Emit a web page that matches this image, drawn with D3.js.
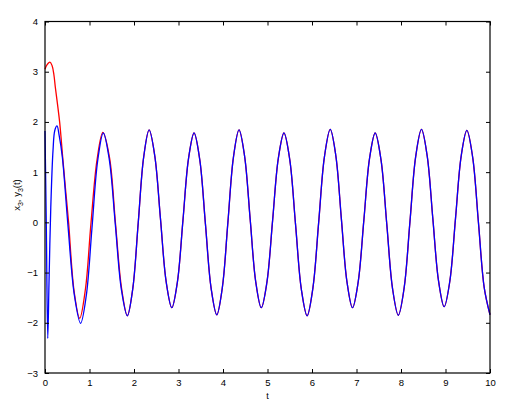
<!DOCTYPE html>
<html>
<head>
<meta charset="utf-8">
<script src="https://cdn.jsdelivr.net/npm/d3@7"></script>
<style>
  body { margin: 0; background: #fff; }
  svg { display: block; font-family: "Liberation Sans", Arial, sans-serif; }
</style>
</head>
<body>
<div id="chart"></div>
<script>
// Chart size and margins (plot box).
const width = 528;
const height = 401;
const marginTop = 21.5;
const marginRight = 38;
const marginBottom = 28;
const marginLeft = 45;

// Tick values.
const xTicks = [0, 1, 2, 3, 4, 5, 6, 7, 8, 9, 10];
const yTicks = [-3, -2, -1, 0, 1, 2, 3, 4];

// Start of the red curve (y3).
const redStartT = [0, 0.04, 0.11, 0.16, 0.20, 0.232, 0.28, 0.33, 0.404, 0.47, 0.53, 0.655, 0.78, 0.91, 1.03, 1.17, 1.30, 1.45, 1.585, 1.72];
const redStartY = [3.05, 3.13, 3.19, 3.12, 2.94, 2.69, 2.36, 1.99, 1.23, 0.58, 0.0, -1.38, -1.91, -1.32, -0.05, 1.25, 1.79, 1.29, -0.03, -1.31];

// Start of the blue curve (x3).
const blueStartT = [0, 0.03, 0.062, 0.09, 0.13, 0.18, 0.22, 0.27, 0.32, 0.39, 0.515, 0.66, 0.80, 0.9275, 1.055, 1.1825, 1.31, 1.445, 1.58, 1.715];
const blueStartY = [1.82, -0.1, -2.31, -1.2, 0.3, 1.43, 1.83, 1.92, 1.72, 1.30, -0.05, -1.45, -2.01, -1.46, -0.12, 1.22, 1.78, 1.25, -0.04, -1.33];

// After t ~ 1.85 the two curves lie on top of each other.
const tailT = [
  1.85, 1.9725, 2.095, 2.2175,
  2.34, 2.4675, 2.595, 2.7225,
  2.85, 2.975, 3.10, 3.225,
  3.35, 3.4775, 3.605, 3.7325,
  3.86, 3.985, 4.11, 4.235,
  4.36, 4.485, 4.61, 4.735,
  4.86, 4.9875, 5.115, 5.2425,
  5.37, 5.50, 5.63, 5.76,
  5.89, 6.02, 6.15, 6.28,
  6.41, 6.535, 6.66, 6.785,
  6.91, 7.0375, 7.165, 7.2925,
  7.42, 7.55, 7.68, 7.81,
  7.94, 8.07, 8.20, 8.33,
  8.46, 8.5875, 8.715, 8.8425,
  8.97, 9.0975, 9.225, 9.3525,
  9.48, 9.61, 9.74, 9.87,
  10.0
];
const tailY = [
  -1.86, -1.32, -0.01, 1.30,
  1.84, 1.32, 0.07, -1.18,
  -1.70, -1.19, 0.04, 1.27,
  1.78, 1.25, -0.03, -1.31,
  -1.84, -1.30, 0.0, 1.30,
  1.84, 1.32, 0.07, -1.18,
  -1.70, -1.19, 0.04, 1.27,
  1.78, 1.25, -0.04, -1.33,
  -1.86, -1.31, 0.0, 1.31,
  1.85, 1.33, 0.07, -1.18,
  -1.70, -1.19, 0.04, 1.27,
  1.78, 1.25, -0.03, -1.32,
  -1.85, -1.31, 0.0, 1.31,
  1.85, 1.33, 0.08, -1.16,
  -1.68, -1.17, 0.08, 1.32,
  1.83, 1.30, 0.0, -1.30,
  -1.84
];

const red = redStartT.concat(tailT).map((t, i) => ({t, v: redStartY.concat(tailY)[i]}));
const blue = blueStartT.concat(tailT).map((t, i) => ({t, v: blueStartY.concat(tailY)[i]}));

const x = d3.scaleLinear()
    .domain([0, 10])
    .range([marginLeft, width - marginRight]);

const y = d3.scaleLinear()
    .domain([-3, 4])
    .range([height - marginBottom, marginTop]);

const svg = d3.create("svg")
    .attr("width", width)
    .attr("height", height);

const line = d3.line()
    .x(d => x(d.t))
    .y(d => y(d.v))
    .curve(d3.curveCatmullRom.alpha(0.5));

svg.append("path")
    .datum(red)
    .attr("fill", "none")
    .attr("stroke", "#ff0000")
    .attr("stroke-width", 1.3)
    .attr("d", line);

svg.append("path")
    .datum(blue)
    .attr("fill", "none")
    .attr("stroke", "#0000ff")
    .attr("stroke-width", 1.3)
    .attr("d", line);

// Axes, MATLAB style: ticks point inward on all four sides.
const tick = 4;
const axisStyle = g => {
  g.select(".domain").remove();
  g.selectAll(".tick line").attr("stroke", "#000");
  g.selectAll(".tick text").attr("fill", "#000").style("font-size", "9.5px");
};

svg.append("g")
    .attr("transform", `translate(0,${height - marginBottom})`)
    .call(d3.axisBottom(x).tickValues(xTicks).tickSizeInner(-tick).tickSizeOuter(0).tickPadding(6))
    .call(axisStyle);

svg.append("g")
    .attr("transform", `translate(0,${marginTop})`)
    .call(d3.axisTop(x).tickValues(xTicks).tickSizeInner(-tick).tickSizeOuter(0).tickFormat(""))
    .call(axisStyle);

svg.append("g")
    .attr("transform", `translate(${marginLeft},0)`)
    .call(d3.axisLeft(y).tickValues(yTicks).tickSizeInner(-tick).tickSizeOuter(0).tickPadding(7).tickFormat(d3.format("d")))
    .call(axisStyle);

svg.append("g")
    .attr("transform", `translate(${width - marginRight},0)`)
    .call(d3.axisRight(y).tickValues(yTicks).tickSizeInner(-tick).tickSizeOuter(0).tickFormat(""))
    .call(axisStyle);

// minus sign like MATLAB
svg.selectAll("text").each(function() {
  const s = d3.select(this);
  s.text(s.text().replace("-", "\u2212"));
});

// Plot box
svg.append("rect")
    .attr("x", marginLeft)
    .attr("y", marginTop)
    .attr("width", width - marginRight - marginLeft)
    .attr("height", height - marginBottom - marginTop)
    .attr("fill", "none")
    .attr("stroke", "#000")
    .attr("stroke-width", 1.2);

// Axis labels
svg.append("text")
    .attr("x", x(5))
    .attr("y", 398.5)
    .attr("text-anchor", "middle")
    .style("font-size", "9px")
    .text("t");

const yl = svg.append("text")
    .attr("transform", `translate(20,195) rotate(-90)`)
    .attr("text-anchor", "middle")
    .style("font-size", "9.5px");
yl.append("tspan").text("x");
yl.append("tspan").attr("dy", 3).style("font-size", "7px").text("3");
yl.append("tspan").attr("dy", -3).text(", y");
yl.append("tspan").attr("dy", 3).style("font-size", "7px").text("3");
yl.append("tspan").attr("dy", -3).text("(t)");

d3.select("#chart").append(() => svg.node());
</script>
</body>
</html>
